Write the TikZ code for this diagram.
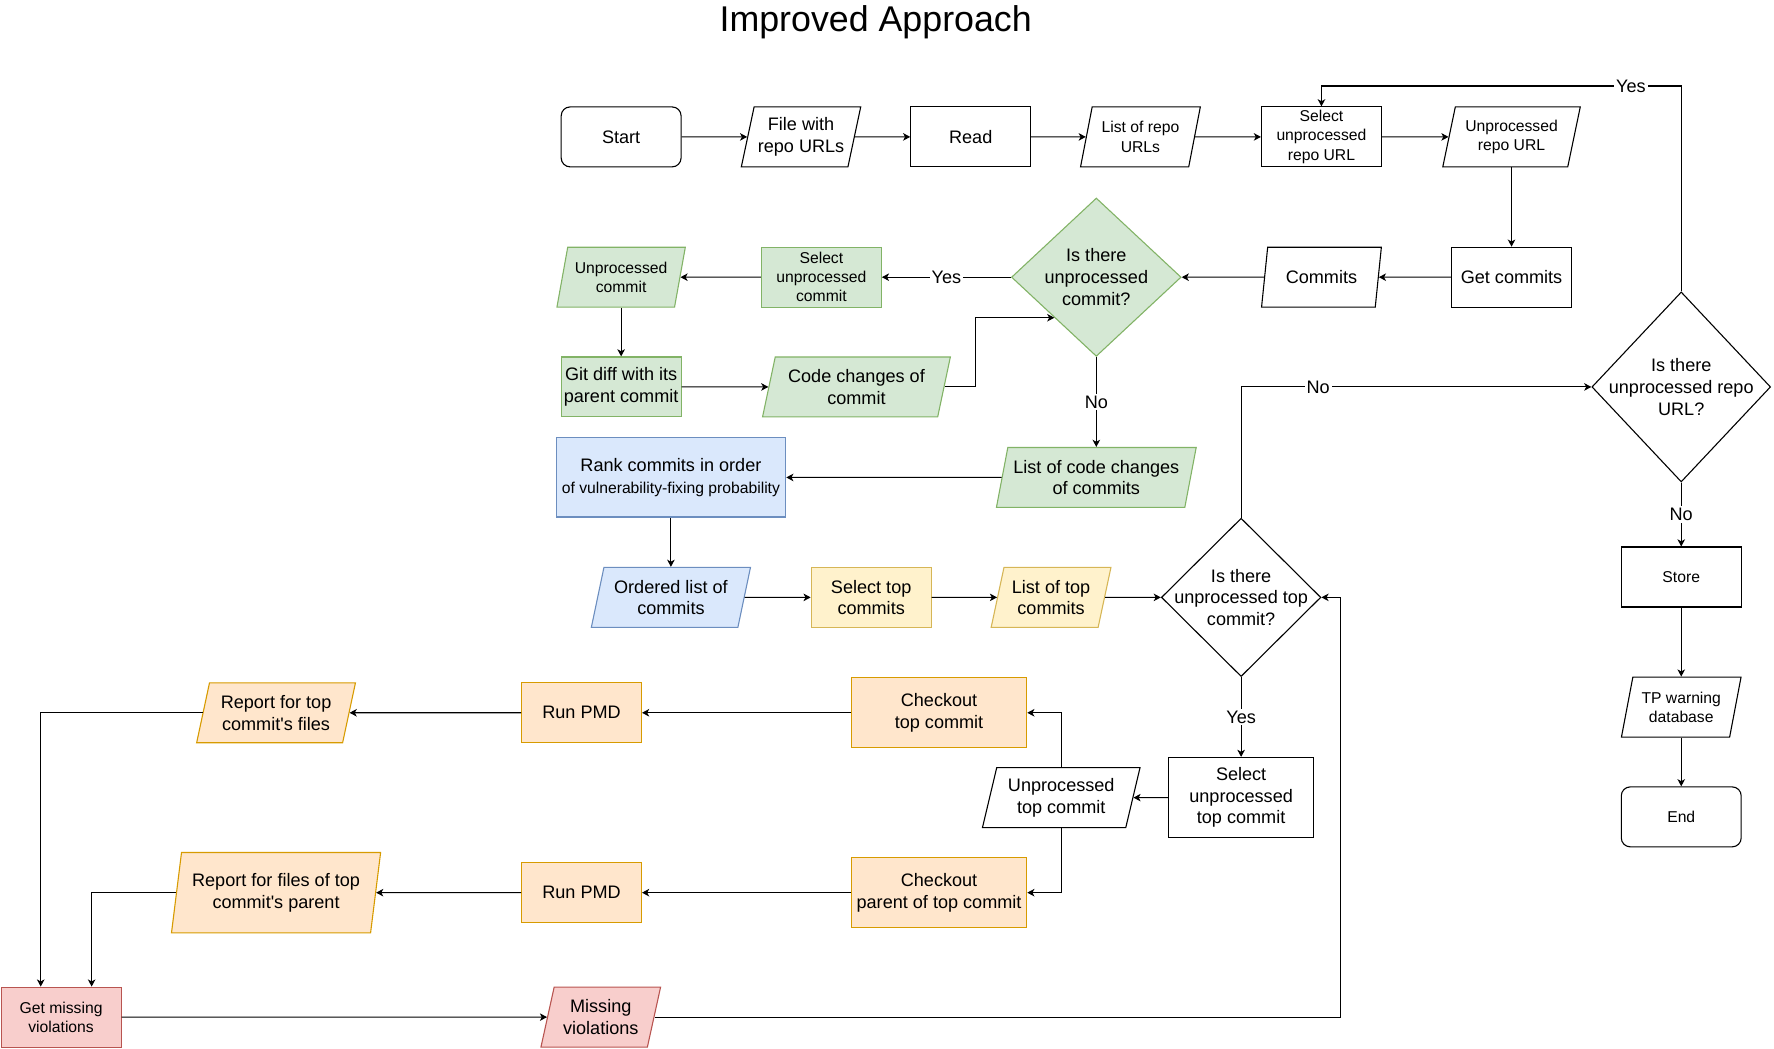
\documentclass[tikz,border=0pt]{standalone}
\usepackage{fontspec}
\setmainfont{Liberation Sans}
\usetikzlibrary{shapes.geometric,arrows.meta,positioning}

\definecolor{greenfill}{HTML}{D5E8D4}
\definecolor{greenline}{HTML}{82B366}
\definecolor{bluefill}{HTML}{DAE8FC}
\definecolor{blueline}{HTML}{6C8EBF}
\definecolor{yellowfill}{HTML}{FFF2CC}
\definecolor{yellowline}{HTML}{D6B656}
\definecolor{orangefill}{HTML}{FFE6CC}
\definecolor{orangeline}{HTML}{D79B00}
\definecolor{redfill}{HTML}{F8CECC}
\definecolor{redline}{HTML}{B85450}

\newcommand{\mainsize}{\fontsize{9.1pt}{10.9pt}\selectfont}
\newcommand{\smallsize}{\fontsize{7.9pt}{9.6pt}\selectfont}

\begin{document}
\begin{tikzpicture}[x=0.02cm,y=-0.02cm,line width=0.55pt,
    >={Stealth[length=3.6pt,width=3.8pt,inset=1pt]},
    base/.style={draw,align=center,inner sep=0pt,font=\mainsize,minimum width=2.12cm,minimum height=1.06cm},
    proc/.style={base,rectangle},
    term/.style={base,rectangle,rounded corners=4.5pt},
    data/.style={base,trapezium,trapezium left angle=73,trapezium right angle=107,trapezium stretches=true},
    decision/.style={diamond,draw,inner sep=0pt,label={[font=\mainsize,align=center]center:#1}},
    small/.style={font=\smallsize},
    green/.style={fill=greenfill,draw=greenline},
    blue/.style={fill=bluefill,draw=blueline},
    yellow/.style={fill=yellowfill,draw=yellowline},
    orange/.style={fill=orangefill,draw=orangeline},
    red/.style={fill=redfill,draw=redline},
    lbl/.style={fill=white,font=\mainsize,inner sep=1pt}]
    \useasboundingbox (0,0) rectangle (1568,927);
    \node[font=\fontsize{18pt}{22pt}\selectfont] (title) at (774,20) {Improved Approach};

    \node[term] (start) at (549,121) {Start};
    \node[data] (file) at (708,121) {File with\\repo URLs};
    \node[proc] (read) at (858,121) {Read};
    \node[data,small] (repolist) at (1008,121) {List of repo\\URLs};
    \node[proc,small] (selrepo) at (1168,121) {Select\\unprocessed\\repo URL};
    \node[data,small,minimum width=2.44cm] (urepo) at (1336,121) {Unprocessed\\repo URL};

    \node[proc] (getc) at (1336,245) {Get commits};
    \node[data] (commits) at (1168,245) {Commits};
    \node[decision={Is there\\unprocessed\\commit?},green,minimum width=3cm,minimum height=2.8cm] (qcommit) at (969,245) {};
    \node[proc,small,green] (selc) at (726,245) {Select\\unprocessed\\commit};
    \node[data,small,green,minimum width=2.28cm] (ucommit) at (549,245) {Unprocessed\\commit};
    \node[proc,green] (gitdiff) at (549,342) {Git diff with its\\parent commit};
    \node[data,green,minimum width=3.34cm] (changes) at (757,342) {Code changes of\\commit};
    \node[data,green,minimum width=3.54cm] (lcc) at (969,422) {List of code changes\\of commits};
    \node[proc,blue,minimum width=4.06cm,minimum height=1.4cm] (rank) at (593,422) {Rank commits in order\\{\smallsize of vulnerability-fixing probability}};

    \node[data,blue,minimum width=2.82cm] (ordered) at (593,528) {Ordered list of\\commits};
    \node[proc,yellow] (seltop) at (770,528) {Select top\\commits};
    \node[data,yellow] (ltop) at (929,528) {List of top\\commits};
    \node[decision={Is there\\unprocessed top\\commit?},minimum width=2.82cm,minimum height=2.8cm] (qtop) at (1097,528) {};

    \node[decision={Is there\\unprocessed repo\\URL?},minimum width=3.16cm,minimum height=3.36cm] (qrepo) at (1486,342) {};
    \node[proc,small] (store) at (1486,510) {Store};
    \node[data,small] (tpdb) at (1486,625) {TP warning\\database};
    \node[term,small] (end) at (1486,722) {End};

    \node[proc,minimum width=2.56cm,minimum height=1.42cm] (seltopc) at (1097,705) {Select\\unprocessed\\top commit};
    \node[data,minimum width=2.8cm] (utop) at (938,705) {Unprocessed\\top commit};
    \node[proc,orange,minimum width=3.1cm,minimum height=1.24cm] (co1) at (830,630) {Checkout\\top commit};
    \node[proc,orange,minimum width=3.1cm,minimum height=1.24cm] (co2) at (830,789) {Checkout\\parent of top commit};
    \node[proc,orange] (pmd1) at (514,630) {Run PMD};
    \node[proc,orange] (pmd2) at (514,789) {Run PMD};
    \node[data,orange,minimum width=2.82cm] (rep1) at (244,630) {Report for top\\commit\textquotesingle s files};
    \node[data,orange,minimum width=3.7cm,minimum height=1.42cm,trapezium left angle=77,trapezium right angle=103] (rep2) at (244,789) {Report for files of top\\commit\textquotesingle s parent};
    \node[proc,small,red] (gmv) at (54,899) {Get missing\\violations};
    \node[data,red] (mviol) at (531,899) {Missing\\violations};

    \draw[->] (start) -- (file);
    \draw[->] (file) -- (read);
    \draw[->] (read) -- (repolist);
    \draw[->] (repolist) -- (selrepo);
    \draw[->] (selrepo) -- (urepo);
    \draw[->] (getc.north |- urepo.south) -- (getc.north);
    \draw[->] (getc) -- (commits);
    \draw[->] (commits) -- (qcommit);
    \draw[->] (qcommit.west) -- node[lbl] {Yes} (selc.east);
    \draw[->] (selc) -- (ucommit);
    \draw[->] (gitdiff.north |- ucommit.south) -- (gitdiff.north);
    \draw[->] (gitdiff) -- (changes);
    \draw[->] (changes.east) -- ++(27,0) |- (qcommit.224);
    \draw[->] (qcommit.south) -- node[lbl] {No} (qcommit.south |- lcc.north);
    \draw[->] (lcc) -- (rank);
    \draw[->] (rank.south) -- (rank.south |- ordered.north);
    \draw[->] (ordered) -- (seltop);
    \draw[->] (seltop) -- (ltop);
    \draw[->] (ltop) -- (qtop.west);
    \draw[->] (qtop.north) |- node[lbl,pos=0.61] {No} (qrepo.west);
    \draw[->] (qrepo.north) |- node[lbl,pos=0.57] {Yes} ([yshift=0.36cm]selrepo.north) -- (selrepo.north);
    \draw[->] (qrepo.south) -- node[lbl] {No} (store.north);
    \draw[->] (store.south) -- (store.south |- tpdb.north);
    \draw[->] (end.north |- tpdb.south) -- (end.north);
    \draw[->] (qtop.south) -- node[lbl] {Yes} (seltopc.north);
    \draw[->] (seltopc) -- (utop);
    \draw[->] (utop.center |- utop.north) |- (co1.east);
    \draw[->] (utop.center |- utop.south) |- (co2.east);
    \draw[->] (co1) -- (pmd1);
    \draw[->] (pmd1) -- (rep1);
    \draw[->] (co2) -- (pmd2);
    \draw[->] (pmd2) -- (rep2);
    \draw[->] (rep1.west) -| ([xshift=-0.36cm]gmv.north);
    \draw[->] (rep2.west) -| ([xshift=0.54cm]gmv.north);
    \draw[->] (gmv) -- (mviol);
    \draw[->] (mviol.east) -| ([xshift=0.34cm]qtop.east) -- (qtop.east);
\end{tikzpicture}
\end{document}
